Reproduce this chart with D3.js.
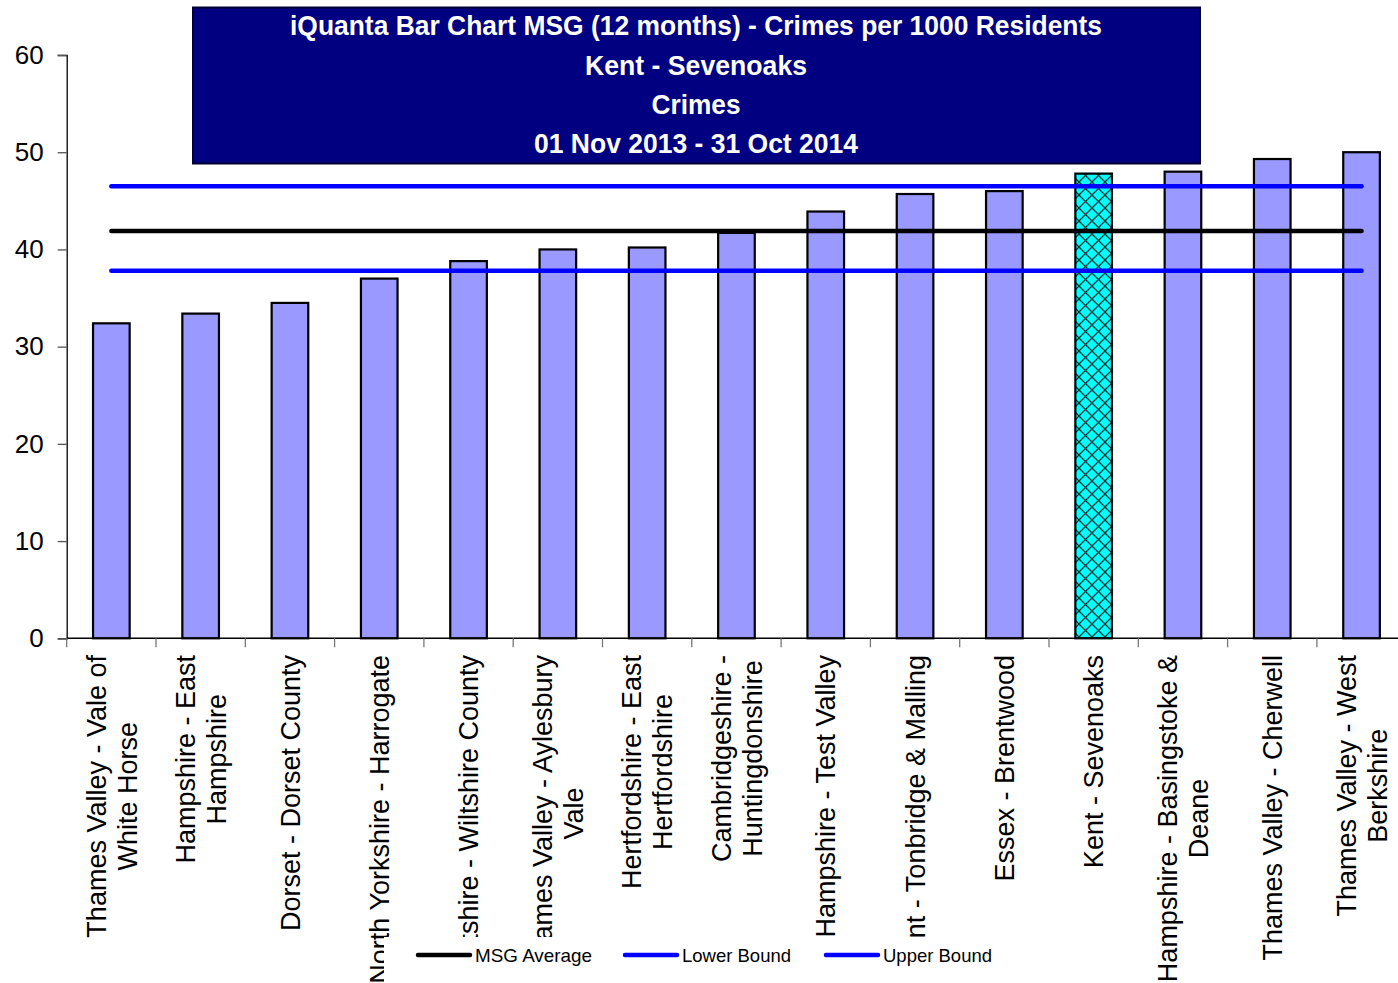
<!DOCTYPE html>
<html>
<head>
<meta charset="utf-8">
<script src="https://cdn.jsdelivr.net/npm/d3@7"></script>
<style>
  html, body { margin: 0; padding: 0; background: #fff; }
  svg { display: block; }
</style>
</head>
<body>
<svg id="chart" width="1398" height="983"></svg>
<script>
const categories = [
  ["Thames Valley - Vale of", "White Horse"],
  ["Hampshire - East", "Hampshire"],
  ["Dorset - Dorset County"],
  ["North Yorkshire - Harrogate"],
  ["Wiltshire - Wiltshire County"],
  ["Thames Valley - Aylesbury", "Vale"],
  ["Hertfordshire - East", "Hertfordshire"],
  ["Cambridgeshire -", "Huntingdonshire"],
  ["Hampshire - Test Valley"],
  ["Kent - Tonbridge & Malling"],
  ["Essex - Brentwood"],
  ["Kent - Sevenoaks"],
  ["Hampshire - Basingstoke &", "Deane"],
  ["Thames Valley - Cherwell"],
  ["Thames Valley - West", "Berkshire"]
];
const values = [32.4, 33.4, 34.5, 37.0, 38.8, 40.0, 40.2, 41.7, 43.9, 45.7, 46.0, 47.8, 48.0, 49.3, 50.0];
const highlighted = "Kent - Sevenoaks";
const msgAverage = 41.9;
const lowerBound = 37.8;
const upperBound = 46.5;
const yTicks = [0, 10, 20, 30, 40, 50, 60];
const titleLines = [
  "iQuanta Bar Chart MSG (12 months) - Crimes per 1000 Residents",
  "Kent - Sevenoaks",
  "Crimes",
  "01 Nov 2013 - 31 Oct 2014"
];
const legendItems = [
  { label: "MSG Average", color: "#000000" },
  { label: "Lower Bound", color: "#0000FF" },
  { label: "Upper Bound", color: "#0000FF" }
];

const svg = d3.select("#chart");
const keys = categories.map(c => c.join(" "));

const x = d3.scaleBand().domain(keys).range([66.7, 1406.2]).paddingInner(0.59).paddingOuter(0.295);
const y = d3.scaleLinear().domain([0, 60]).range([638.3, 55]);

// pattern for highlighted bar
const defs = svg.append("defs");
const pat = defs.append("pattern").attr("id", "hatch").attr("patternUnits", "userSpaceOnUse")
  .attr("width", 13).attr("height", 13);
pat.append("rect").attr("width", 13).attr("height", 13).attr("fill", "#00FFFF");
pat.append("path").attr("d", "M0,0 L13,13 M13,0 L0,13").attr("stroke", "#153535").attr("stroke-width", 1.3);

// y axis
const yAxis = svg.append("g").attr("transform", "translate(66.7,0)")
  .call(d3.axisLeft(y).tickValues(yTicks).tickSize(9).tickPadding(14).tickFormat(d3.format("d")));
yAxis.select(".domain").attr("stroke", "#000").attr("stroke-width", 1.3);
yAxis.selectAll(".tick line").attr("stroke", "#555").attr("stroke-width", 1.3);
yAxis.selectAll(".tick text").attr("font-family", "Liberation Sans, Arial, sans-serif").attr("font-size", 26).attr("fill", "#000");

// bars
svg.append("g").selectAll("rect").data(keys).join("rect")
  .attr("x", d => x(d))
  .attr("y", (d, i) => y(values[i]))
  .attr("width", x.bandwidth())
  .attr("height", (d, i) => y(0) - y(values[i]))
  .attr("fill", d => d === highlighted ? "url(#hatch)" : "#9999FF")
  .attr("stroke", "#000").attr("stroke-width", 2.2);

// x axis
const xAxisG = svg.append("g").attr("transform", `translate(0,${y(0)})`);
xAxisG.append("line").attr("x1", 66.7).attr("x2", 1406.2).attr("y1", 0).attr("y2", 0)
  .attr("stroke", "#000").attr("stroke-width", 1.5);
const step = x.step();
xAxisG.selectAll("line.tk").data(d3.range(keys.length + 1)).join("line").attr("class", "tk")
  .attr("x1", i => 66.7 + i * step).attr("x2", i => 66.7 + i * step)
  .attr("y1", 0).attr("y2", 9).attr("stroke", "#777").attr("stroke-width", 1.3);

// reference lines
const x0 = x(keys[0]) + x.bandwidth() / 2;
const x1 = x(keys[keys.length - 1]) + x.bandwidth() / 2;
[[upperBound, "#0000FF"], [msgAverage, "#000000"], [lowerBound, "#0000FF"]].forEach(([v, c]) => {
  svg.append("line").attr("x1", x0).attr("x2", x1).attr("y1", y(v)).attr("y2", y(v))
    .attr("stroke", c).attr("stroke-width", 4.5).attr("stroke-linecap", "round");
});

// x labels
const labelFont = 27;
const lineH = 31;
const labelG = svg.append("g");
categories.forEach((lines, i) => {
  const cx = x(keys[i]) + x.bandwidth() / 2;
  const g = labelG.append("g");
  const texts = lines.map(l => g.append("text").text(l)
    .attr("font-family", "Liberation Sans, Arial, sans-serif").attr("font-size", labelFont)
    .attr("fill", "#000").attr("text-anchor", "middle"));
  const maxW = d3.max(texts, t => t.node().getComputedTextLength());
  const n = lines.length;
  texts.forEach((t, j) => {
    const off = (j - (n - 1) / 2) * lineH;
    t.attr("x", 0).attr("y", off).attr("dy", "0.36em");
  });
  g.attr("transform", `translate(${cx},${655 + maxW / 2}) rotate(-90)`);
});

// legend box (white, covers label ends)
svg.append("rect").attr("x", 384).attr("y", 937).attr("width", 622).attr("height", 50).attr("fill", "#fff");
const legX = [418, 625, 826];
const legTextW = [117, 109, 109];
legendItems.forEach((it, i) => {
  svg.append("line").attr("x1", legX[i]).attr("x2", legX[i] + 52).attr("y1", 955).attr("y2", 955)
    .attr("stroke", it.color).attr("stroke-width", 4.5).attr("stroke-linecap", "round");
  svg.append("text").text(it.label).attr("x", legX[i] + 57).attr("y", 955).attr("dy", "0.36em")
    .attr("font-family", "Liberation Sans Narrow, Arial Narrow, Liberation Sans, sans-serif")
    .attr("font-size", 19).attr("fill", "#000")
    .attr("textLength", legTextW[i]).attr("lengthAdjust", "spacingAndGlyphs");
});

// title box
svg.append("rect").attr("x", 193).attr("y", 7.5).attr("width", 1007).attr("height", 156)
  .attr("fill", "#000080").attr("stroke", "#000033").attr("stroke-width", 2);
const titleW = [812, 222, 89, 324];
const titleY = [25, 65, 104, 143];
titleLines.forEach((t, i) => {
  svg.append("text").text(t).attr("x", 696).attr("y", titleY[i]).attr("dy", "0.36em")
    .attr("text-anchor", "middle")
    .attr("font-family", "Liberation Sans Narrow, Arial Narrow, Liberation Sans, sans-serif")
    .attr("font-weight", "bold").attr("font-size", 28).attr("fill", "#fff")
    .attr("textLength", titleW[i]).attr("lengthAdjust", "spacingAndGlyphs");
});
</script>
</body>
</html>
